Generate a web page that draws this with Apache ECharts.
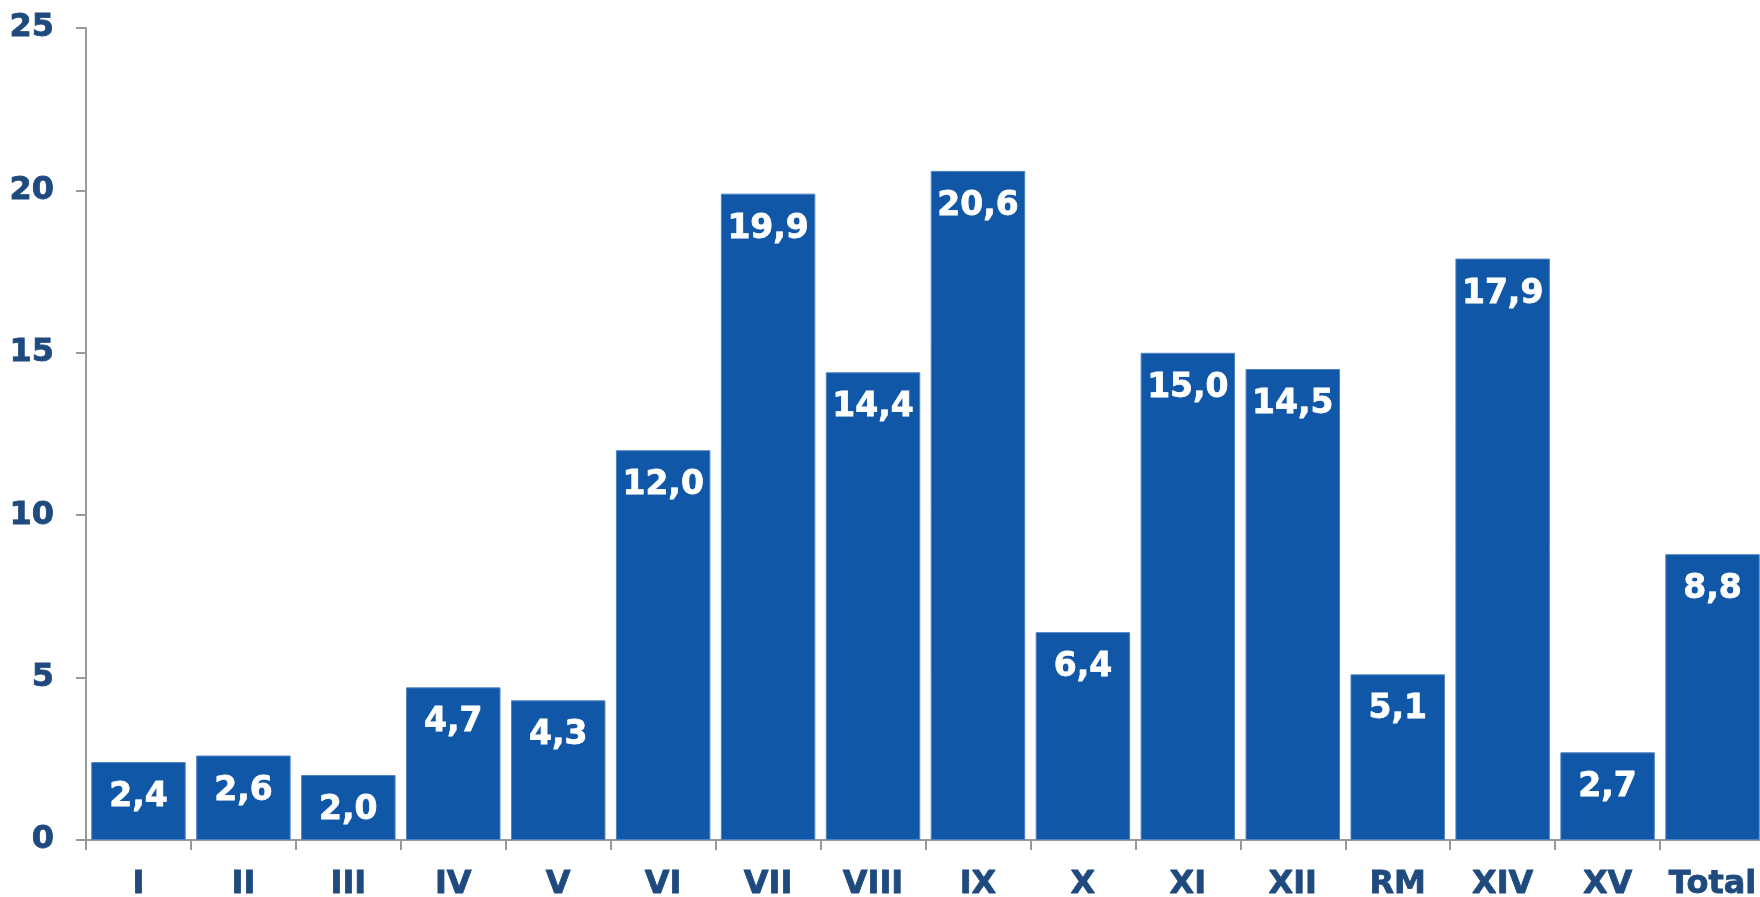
<!DOCTYPE html>
<html>
<head>
<meta charset="utf-8">
<script src="https://cdn.jsdelivr.net/npm/echarts@6/dist/echarts.min.js"></script>
<style>
  html, body { margin: 0; padding: 0; background: #fff; }
  #chart { width: 1760px; height: 897px; }
</style>
</head>
<body>
<div id="chart"></div>
<script>
const categories = ['I', 'II', 'III', 'IV', 'V', 'VI', 'VII', 'VIII', 'IX', 'X', 'XI', 'XII', 'RM', 'XIV', 'XV', 'Total']
const values = [2.4, 2.6, 2.0, 4.7, 4.3, 12.0, 19.9, 14.4, 20.6, 6.4, 15.0, 14.5, 5.1, 17.9, 2.7, 8.8]
const yTicks = [0, 5, 10, 15, 20, 25]

const labelColor = '#1f4a7e'
const barColor = '#1057a8'
const font = 'Verdana, "DejaVu Sans", sans-serif'

const chart = echarts.init(document.getElementById('chart'))

// DejaVu Bold is a little lighter than Verdana Bold, so thicken the glyphs a bit
const axisText = {
  color: labelColor, fontFamily: font, fontWeight: 'bold', fontSize: 32,
  textBorderColor: labelColor, textBorderWidth: 0.8
}

chart.setOption({
  backgroundColor: '#fff',
  animation: false,
  grid: { left: 86, top: 28, width: 1679, bottom: 57, containLabel: false, outerBoundsMode: 'none' },
  xAxis: {
    type: 'category',
    data: categories,
    axisLine: { lineStyle: { color: '#999', width: 2 } },
    axisTick: { show: true, length: 10, alignWithLabel: false, lineStyle: { color: '#999', width: 2 } },
    axisLabel: { ...axisText, margin: 29, interval: 0 }
  },
  yAxis: {
    type: 'value',
    min: yTicks[0],
    max: yTicks[yTicks.length - 1],
    interval: 5,
    splitLine: { show: false },
    axisLine: { show: true, lineStyle: { color: '#999', width: 2 } },
    axisTick: { show: true, length: 10, lineStyle: { color: '#999', width: 2 } },
    axisLabel: { ...axisText, margin: 32 }
  },
  series: [{
    type: 'bar',
    data: values,
    barCategoryGap: '10%',
    itemStyle: { color: barColor, borderColor: '#4d82c4', borderWidth: 1 },
    label: {
      show: true,
      position: 'insideTop',
      distance: 19,
      color: '#fff',
      textBorderColor: '#fff',
      textBorderWidth: 0.8,
      fontFamily: font,
      fontWeight: 'bold',
      fontSize: 33,
      formatter: p => p.value.toFixed(1).replace('.', ',')
    }
  }]
})
</script>
</body>
</html>
